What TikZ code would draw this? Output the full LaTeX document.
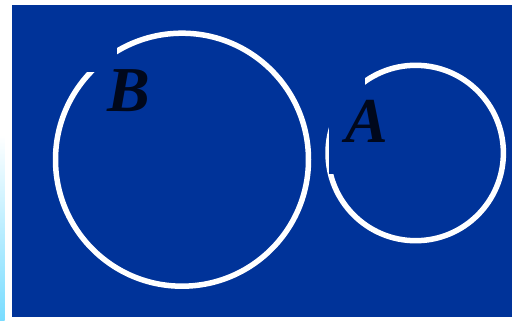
\documentclass[tikz,border=0pt]{standalone}
\usepackage{fontspec}
\setmainfont{Liberation Serif}
\definecolor{bgblue}{RGB}{0,51,153}
\definecolor{labelink}{RGB}{0,8,28}
\definecolor{stripcyan}{RGB}{120,220,255}
\begin{document}
\begin{tikzpicture}[x=1pt,y=-1pt,
  ring/.style={draw=white,line width=5.5pt},
  cover/.style={fill=bgblue,draw=none},
  setlabel/.style={text=labelink,font=\fontsize{64}{64}\selectfont\bfseries\itshape,inner sep=0pt,anchor=base}]
\useasboundingbox (0,0) rectangle (512,321);
\fill[white] (0,0) rectangle (512,321);
\shade[top color=white,bottom color=stripcyan,draw=none] (0,135) rectangle (4.5,321);
\fill[bgblue] (12.3,5) rectangle (512,317);
\draw[ring] (182,159.7) circle (126.5);
\draw[ring] (415.7,153) circle (87.7);
\fill[cover] (70,35) rectangle (117,72.5);
\fill[cover] (328.8,60) rectangle (365,174);
\node[setlabel] (B) at (128.5,111.8) {B};
\node[setlabel] (A) at (367,142.3) {A};
\end{tikzpicture}
\end{document}
